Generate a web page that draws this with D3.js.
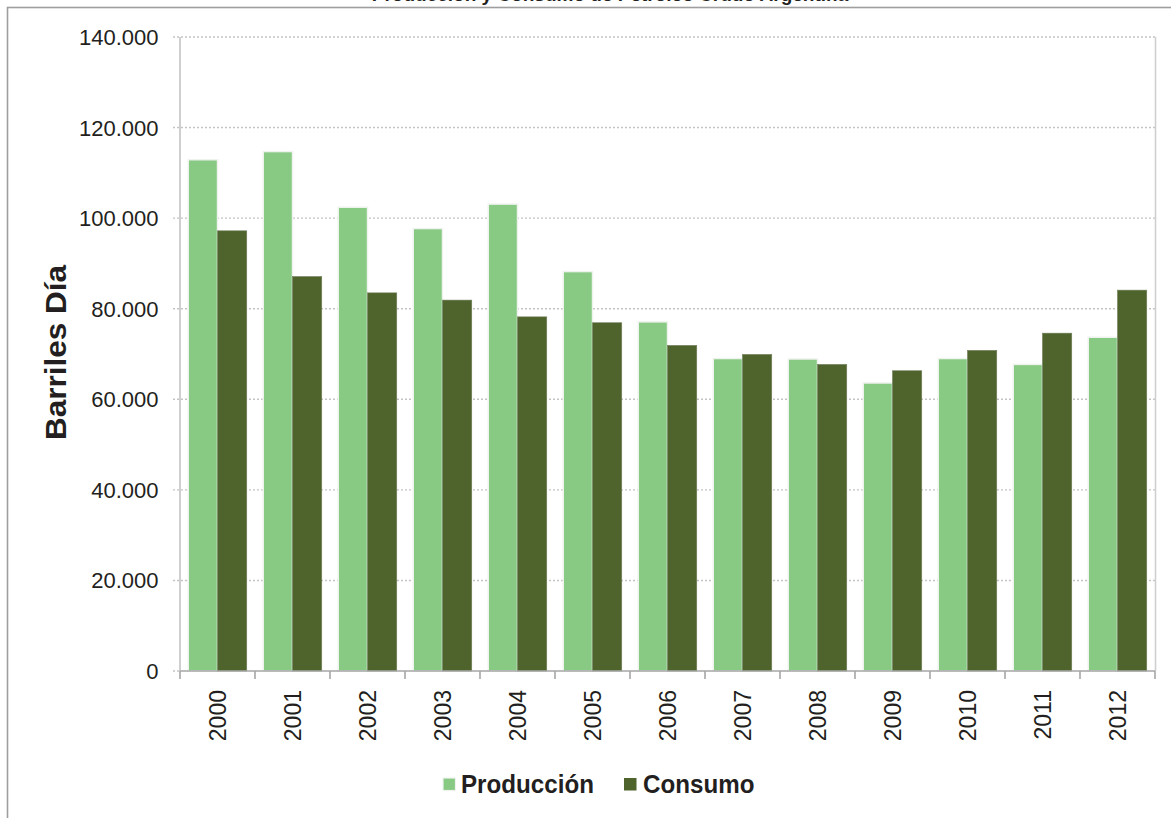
<!DOCTYPE html>
<html>
<head>
<meta charset="utf-8">
<script src="https://cdn.jsdelivr.net/npm/d3@7/dist/d3.min.js"></script>
<style>
  html, body { margin: 0; padding: 0; background: #ffffff; }
  svg { display: block; }
  text { font-family: "Liberation Sans", Arial, Helvetica, sans-serif; fill: #231f20; }
</style>
</head>
<body>
<svg id="chart" width="1171" height="818"></svg>
<script>
// ---- data ----
const years = ["2000","2001","2002","2003","2004","2005","2006","2007","2008","2009","2010","2011","2012"];
const produccion = [112900, 114700, 102400, 97700, 103100, 88200, 77100, 69000, 68900, 63600, 69000, 67700, 73700];
const consumo    = [97200, 87100, 83500, 81900, 78200, 76900, 71900, 69900, 67700, 66300, 70800, 74600, 84100];
const seriesNames = ["Producción", "Consumo"];
const yTicks = [0, 20000, 40000, 60000, 80000, 100000, 120000, 140000];
const chartTitle = "Producción y Consumo de Petróleo Crudo Argentina";

// ---- styles ----
const colors = { "Producción": "#88c983", "Consumo": "#4f632d" };

const svg = d3.select("#chart");
const W = 1171, H = 818;
const plot = { left: 180, right: 1155, top: 37, bottom: 671 };

svg.append("rect").attr("width", W).attr("height", H).attr("fill", "#fff");

// outer frame (extends beyond the picture on right/bottom)
svg.append("rect")
  .attr("x", 7.5).attr("y", 7.5)
  .attr("width", 1200).attr("height", 900)
  .attr("fill", "none").attr("stroke", "#9e9e9e").attr("stroke-width", 1.6);

// title, cut off at the top edge as in the reference (only its bottom shows)
svg.append("text")
  .attr("x", 610).attr("y", 0.5)
  .attr("text-anchor", "middle")
  .attr("font-size", 19).attr("font-weight", "bold")
  .text(chartTitle);

// scales
const y = d3.scaleLinear().domain([0, 140000]).range([plot.bottom, plot.top]);
const x0 = d3.scaleBand().domain(years).range([plot.left, plot.right])
  .paddingInner(0.22).paddingOuter(0.11);
const x1 = d3.scaleBand().domain(seriesNames).range([0, x0.bandwidth()]).padding(0);

const fmt = v => d3.format(",")(v).replace(/,/g, ".");

// gridlines
const grid = svg.append("g");
grid.selectAll("line").data(yTicks.filter(t => t > 0)).join("line")
  .attr("x1", plot.left - 7).attr("x2", plot.right)
  .attr("y1", d => y(d)).attr("y2", d => y(d))
  .attr("stroke", "#c4c4c4").attr("stroke-width", 1.4)
  .attr("stroke-dasharray", "2,2");

svg.append("line")
  .attr("x1", plot.left - 7).attr("x2", plot.left)
  .attr("y1", y(0)).attr("y2", y(0))
  .attr("stroke", "#c4c4c4").attr("stroke-width", 1.4).attr("stroke-dasharray", "2,2");

// right border of plot area
svg.append("line")
  .attr("x1", plot.right + 0.5).attr("x2", plot.right + 0.5)
  .attr("y1", plot.top).attr("y2", plot.bottom)
  .attr("stroke", "#cfcfcf").attr("stroke-width", 1.6);

// bars
const rows = years.map((yr, i) => ({ year: yr, values: [
  { key: "Producción", value: produccion[i] },
  { key: "Consumo", value: consumo[i] } ] }));

const groups = svg.append("g").selectAll("g").data(rows).join("g")
  .attr("transform", d => `translate(${x0(d.year)},0)`);

groups.selectAll("rect").data(d => d.values).join("rect")
  .attr("x", d => x1(d.key))
  .attr("y", d => y(d.value))
  .attr("width", x1.bandwidth())
  .attr("height", d => y(0) - y(d.value))
  .attr("fill", d => colors[d.key])
  .attr("stroke", d => d.key === "Producción" ? "#eef3ee" : "#6f7f58")
  .attr("stroke-width", d => d.key === "Producción" ? 1.5 : 0.6);

// y axis line
svg.append("line")
  .attr("x1", plot.left).attr("x2", plot.left)
  .attr("y1", plot.top).attr("y2", plot.bottom)
  .attr("stroke", "#cfcfcf").attr("stroke-width", 2);

// x axis line + ticks at band boundaries
const xAxis = svg.append("g");
xAxis.append("line")
  .attr("x1", plot.left).attr("x2", plot.right)
  .attr("y1", y(0)).attr("y2", y(0))
  .attr("stroke", "#a6a6a6").attr("stroke-width", 1.6);
const boundaries = years.map(yr => x0(yr) - x0.step() * x0.paddingOuter()).concat([plot.right]);
xAxis.selectAll("line.tick").data(boundaries).join("line")
  .attr("class", "tick")
  .attr("x1", d => d).attr("x2", d => d)
  .attr("y1", y(0)).attr("y2", y(0) + 8)
  .attr("stroke", "#a6a6a6").attr("stroke-width", 1.6);

// x labels (rotated)
xAxis.selectAll("text").data(years).join("text")
  .attr("transform", d => `translate(${x0(d) + x0.bandwidth() / 2 + 8.5},${y(0) + 19}) rotate(-90)`)
  .attr("text-anchor", "end")
  .attr("font-size", 23)
  .text(d => d);

// y tick labels
svg.append("g").selectAll("text").data(yTicks).join("text")
  .attr("x", 158.5)
  .attr("y", d => y(d) + 8)
  .attr("text-anchor", "end")
  .attr("font-size", 22)
  .text(d => fmt(d));

// y title
svg.append("text")
  .attr("transform", `translate(66,352.5) rotate(-90) scale(1,0.93)`)
  .attr("text-anchor", "middle")
  .attr("font-size", 31.5).attr("font-weight", "bold")
  .text("Barriles Día");

// legend
const legendItems = [
  { key: "Producción", sx: 443, tx: 461 },
  { key: "Consumo", sx: 624, tx: 643 }
];
const lg = svg.append("g");
lg.selectAll("rect").data(legendItems).join("rect")
  .attr("x", d => d.sx).attr("y", 778)
  .attr("width", 12.5).attr("height", 12.5)
  .attr("fill", d => colors[d.key])
  .attr("stroke", d => d.key === "Producción" ? "#eef3ee" : "none").attr("stroke-width", 1.2);
lg.selectAll("text").data(legendItems).join("text")
  .attr("transform", d => `translate(${d.tx},793) scale(0.93,1)`)
  .attr("font-size", 26).attr("font-weight", "bold")
  .text(d => d.key);
</script>
</body>
</html>
